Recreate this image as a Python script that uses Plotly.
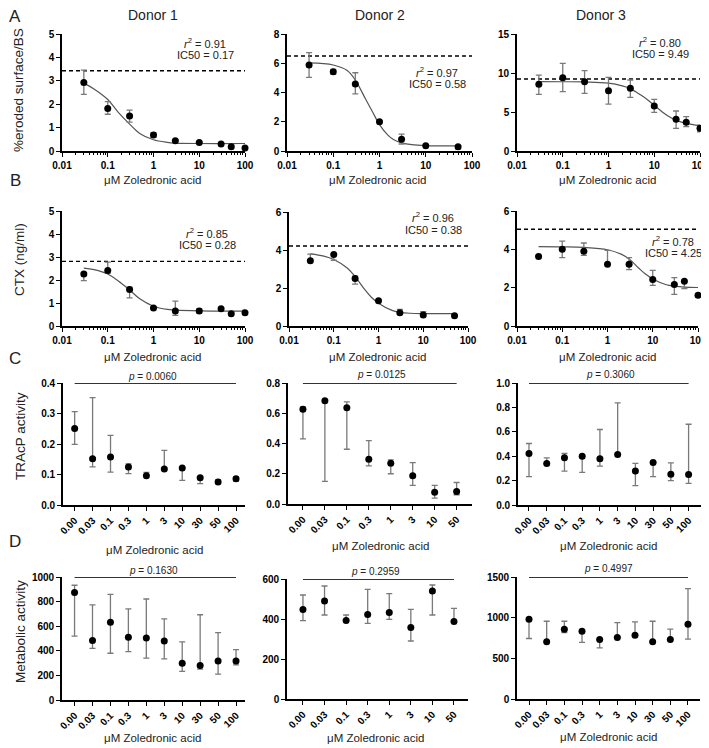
import plotly.graph_objects as go

# the page body keeps its default 8px margin, so positions below are window pixels
OFF = 8
FW, FH = 701, 740
FONT = "Liberation Sans, Arial, sans-serif"

# ---------------- data ----------------
# A: %eroded surface/BS vs log concentration
eroded_d1_conc = [0.03, 0.1, 0.3, 1, 3, 10, 30, 50, 100]
eroded_d1_mean = [2.93, 1.82, 1.50, 0.68, 0.44, 0.36, 0.30, 0.18, 0.13]
eroded_d1_upper = [3.46, 2.11, 1.75, 0.78, 0.47, 0.39, 0.33, 0.26, 0.20]
eroded_d1_lower = [2.42, 1.57, 1.23, 0.58, 0.41, 0.33, 0.27, 0.12, 0.08]
eroded_d1_fit_x = [0.03, 0.05, 0.1, 0.17, 0.3, 0.5, 1, 2, 3, 10, 100]
eroded_d1_fit_y = [2.90, 2.65, 2.20, 1.65, 1.15, 0.75, 0.48, 0.37, 0.34, 0.32, 0.32]
eroded_d1_baseline = 3.43

eroded_d2_conc = [0.03, 0.1, 0.3, 1, 3, 10, 50]
eroded_d2_mean = [5.88, 5.42, 4.58, 2.00, 0.80, 0.36, 0.29]
eroded_d2_upper = [6.72, 5.58, 5.35, 2.05, 1.16, 0.40, 0.36]
eroded_d2_lower = [5.04, 5.26, 3.90, 1.95, 0.48, 0.32, 0.15]
eroded_d2_fit_x = [0.03, 0.1, 0.2, 0.3, 0.5, 0.7, 1, 1.5, 2, 3, 5, 10, 50]
eroded_d2_fit_y = [6.02, 5.88, 5.50, 4.85, 3.55, 2.70, 1.80, 1.10, 0.78, 0.56, 0.43, 0.37, 0.35]
eroded_d2_baseline = 6.5

eroded_d3_conc = [0.03, 0.1, 0.3, 1, 3, 10, 30, 50, 100]
eroded_d3_mean = [8.55, 9.40, 8.88, 7.73, 8.03, 5.77, 4.06, 3.68, 2.91]
eroded_d3_upper = [9.74, 11.24, 10.30, 9.45, 9.10, 6.63, 5.13, 4.40, 3.33]
eroded_d3_lower = [7.27, 7.60, 7.40, 6.00, 6.88, 4.96, 2.91, 3.12, 2.47]
eroded_d3_fit_x = [0.03, 0.1, 0.3, 1, 2, 3, 5, 7, 10, 15, 20, 30, 50, 100]
eroded_d3_fit_y = [8.90, 8.88, 8.85, 8.70, 8.35, 8.00, 7.20, 6.60, 5.85, 5.00, 4.50, 3.95, 3.55, 3.25]
eroded_d3_baseline = 9.23

# B: CTX (ng/ml)
ctx_d1_conc = [0.03, 0.1, 0.3, 1, 3, 10, 30, 50, 100]
ctx_d1_mean = [2.26, 2.41, 1.59, 0.78, 0.65, 0.65, 0.75, 0.53, 0.58]
ctx_d1_upper = [2.30, 2.78, 1.69, 0.80, 1.08, 0.75, 0.77, 0.55, 0.68]
ctx_d1_lower = [1.97, 2.30, 1.22, 0.76, 0.46, 0.56, 0.73, 0.51, 0.52]
ctx_d1_fit_x = [0.03, 0.05, 0.1, 0.2, 0.3, 0.5, 1, 2, 3, 10, 100]
ctx_d1_fit_y = [2.52, 2.45, 2.26, 1.85, 1.57, 1.18, 0.86, 0.72, 0.69, 0.66, 0.65]
ctx_d1_baseline = 2.81

ctx_d2_conc = [0.03, 0.1, 0.3, 1, 3, 10, 50]
ctx_d2_mean = [3.43, 3.76, 2.50, 1.33, 0.70, 0.58, 0.54]
ctx_d2_upper = [3.78, 3.78, 2.62, 1.35, 0.87, 0.75, 0.56]
ctx_d2_lower = [3.41, 3.46, 2.20, 1.31, 0.63, 0.49, 0.52]
ctx_d2_fit_x = [0.03, 0.06, 0.1, 0.2, 0.3, 0.5, 0.7, 1, 2, 3, 5, 10, 50]
ctx_d2_fit_y = [3.80, 3.68, 3.50, 3.05, 2.60, 1.90, 1.50, 1.20, 0.82, 0.72, 0.67, 0.65, 0.65]
ctx_d2_baseline = 4.21

ctx_d3_conc = [0.03, 0.1, 0.3, 1, 3, 10, 30, 50, 100]
ctx_d3_mean = [3.63, 4.00, 3.90, 3.22, 3.22, 2.42, 2.17, 2.33, 1.60]
ctx_d3_upper = [3.65, 4.43, 4.33, 3.95, 3.57, 2.90, 2.52, 2.35, 1.62]
ctx_d3_lower = [3.61, 3.57, 3.69, 3.20, 2.94, 2.12, 1.65, 1.95, 1.58]
ctx_d3_fit_x = [0.03, 0.1, 0.3, 1, 2, 3, 5, 7, 10, 20, 30, 50, 100]
ctx_d3_fit_y = [4.14, 4.13, 4.10, 3.98, 3.75, 3.50, 3.00, 2.70, 2.45, 2.15, 2.08, 2.03, 2.01]
ctx_d3_baseline = 5.05

# C: TRAcP activity (categorical concentrations)
conc_labels_10 = ["0.00", "0.03", "0.1", "0.3", "1", "3", "10", "30", "50", "100"]
conc_labels_8 = ["0.00", "0.03", "0.1", "0.3", "1", "3", "10", "50"]

tracp_d1_mean = [0.251, 0.152, 0.157, 0.125, 0.096, 0.118, 0.121, 0.089, 0.075, 0.086]
tracp_d1_upper = [0.306, 0.352, 0.228, 0.135, 0.107, 0.179, 0.121, 0.092, 0.083, 0.092]
tracp_d1_lower = [0.199, 0.125, 0.108, 0.103, 0.096, 0.115, 0.081, 0.070, 0.073, 0.078]

tracp_d2_mean = [0.627, 0.682, 0.636, 0.296, 0.270, 0.186, 0.077, 0.083]
tracp_d2_upper = [0.642, 0.682, 0.675, 0.419, 0.292, 0.274, 0.123, 0.142]
tracp_d2_lower = [0.430, 0.149, 0.362, 0.252, 0.200, 0.123, 0.039, 0.061]

tracp_d3_mean = [0.422, 0.341, 0.387, 0.400, 0.379, 0.414, 0.278, 0.349, 0.253, 0.251]
tracp_d3_upper = [0.504, 0.387, 0.422, 0.400, 0.619, 0.837, 0.341, 0.349, 0.346, 0.662]
tracp_d3_lower = [0.232, 0.336, 0.278, 0.267, 0.319, 0.414, 0.158, 0.232, 0.199, 0.177]

# D: Metabolic activity
metab_d1_mean = [874, 484, 633, 511, 505, 479, 299, 281, 318, 318]
metab_d1_upper = [933, 773, 858, 741, 821, 660, 473, 693, 548, 409]
metab_d1_lower = [520, 420, 380, 393, 340, 334, 233, 251, 210, 286]

metab_d2_mean = [448, 490, 393, 422, 433, 358, 540, 387]
metab_d2_upper = [520, 565, 420, 548, 527, 448, 570, 453]
metab_d2_lower = [392, 420, 393, 378, 398, 290, 420, 387]

metab_d3_mean = [981, 703, 858, 834, 731, 756, 785, 703, 731, 919]
metab_d3_upper = [981, 956, 956, 834, 731, 940, 948, 956, 858, 1357]
metab_d3_lower = [744, 703, 817, 695, 629, 756, 785, 703, 731, 736]

fit_labels = [["0.91", "0.17"], ["0.97", "0.58"], ["0.80", "9.49"],
              ["0.85", "0.28"], ["0.96", "0.38"], ["0.78", "4.25"]]
p_values = ["0.0060", "0.0125", "0.3060", "0.1630", "0.2959", "0.4997"]
p_line_level = [0.4, 0.8, 1.0, 1000, 600, 1500]

donor_titles = ["Donor 1", "Donor 2", "Donor 3"]
row_letters = ["A", "B", "C", "D"]
y_titles = ["%eroded surface/BS", "CTX (ng/ml)", "TRAcP activity", "Metabolic activity"]
log_ticks = [0.01, 0.1, 1, 10, 100]
log_ticktext = ["0.01", "0.1", "1", "10", "100"]

curve_panels = [
    (eroded_d1_conc, eroded_d1_mean, eroded_d1_upper, eroded_d1_lower, eroded_d1_fit_x, eroded_d1_fit_y, eroded_d1_baseline),
    (eroded_d2_conc, eroded_d2_mean, eroded_d2_upper, eroded_d2_lower, eroded_d2_fit_x, eroded_d2_fit_y, eroded_d2_baseline),
    (eroded_d3_conc, eroded_d3_mean, eroded_d3_upper, eroded_d3_lower, eroded_d3_fit_x, eroded_d3_fit_y, eroded_d3_baseline),
    (ctx_d1_conc, ctx_d1_mean, ctx_d1_upper, ctx_d1_lower, ctx_d1_fit_x, ctx_d1_fit_y, ctx_d1_baseline),
    (ctx_d2_conc, ctx_d2_mean, ctx_d2_upper, ctx_d2_lower, ctx_d2_fit_x, ctx_d2_fit_y, ctx_d2_baseline),
    (ctx_d3_conc, ctx_d3_mean, ctx_d3_upper, ctx_d3_lower, ctx_d3_fit_x, ctx_d3_fit_y, ctx_d3_baseline),
]
dot_panels = [
    (conc_labels_10, tracp_d1_mean, tracp_d1_upper, tracp_d1_lower),
    (conc_labels_8, tracp_d2_mean, tracp_d2_upper, tracp_d2_lower),
    (conc_labels_10, tracp_d3_mean, tracp_d3_upper, tracp_d3_lower),
    (conc_labels_10, metab_d1_mean, metab_d1_upper, metab_d1_lower),
    (conc_labels_8, metab_d2_mean, metab_d2_upper, metab_d2_lower),
    (conc_labels_10, metab_d3_mean, metab_d3_upper, metab_d3_lower),
]

# ---------------- geometry (window pixels) ----------------
# plot boxes: (x_left, x_right, y_top, y_bottom)
boxes = [
    (62, 245, 34, 151), (287, 472, 34, 151), (517, 700, 34, 151),
    (62, 245, 211, 326), (289, 468, 212, 326), (517, 698, 211, 326),
    (63, 245, 383, 505), (288, 472, 383, 504), (518, 701, 383, 505),
    (62, 245, 577, 700), (287, 468, 579, 699), (517, 700, 577, 699),
]
y_ranges = [[0, 5], [0, 8], [0, 15], [0, 5], [0, 6], [0, 6],
            [0, 0.4], [0, 0.8], [0, 1.0], [0, 1000], [0, 600], [0, 1500]]
y_dticks = [1, 2, 5, 1, 2, 2, 0.1, 0.2, 0.2, 200, 200, 500]
cat_ranges = [[-0.65, 9.5], [-0.68, 7.7], [-0.62, 9.7],
              [-0.7, 9.5], [-0.74, 7.65], [-0.68, 9.68]]
r2_pos = [(205, 43), (437, 72), (660, 42), (207, 233), (433, 217), (673, 241)]
ic_pos = [(205, 55), (437, 84), (660, 54), (207, 245), (433, 230), (673, 253)]
p_pos = [(152, 376), (382, 375), (610, 375), (153, 570), (375, 571), (608, 568)]


def px(x):
    return (x - OFF) / FW


def py(y):
    return 1 - (y - OFF) / FH


def label(x, y, text, size, **kw):
    return dict(x=px(x), y=py(y), xref="paper", yref="paper", text=text, showarrow=False,
                xanchor="center", yanchor="middle",
                font=dict(family=FONT, size=size, color="#222"), **kw)


fig = go.Figure()
axis_base = dict(showline=True, linecolor="black", linewidth=1.6, ticks="outside",
                 ticklen=4, tickwidth=1.4, tickcolor="black", showgrid=False,
                 zeroline=False, automargin=False,
                 tickfont=dict(family=FONT, size=10, color="black", weight="bold"))
layout_axes = {}
annotations = []

for k in range(12):
    n = k + 1
    xa, ya = f"x{n}", f"y{n}"
    x0, x1, y0, y1 = boxes[k]
    xkey = "xaxis" if n == 1 else f"xaxis{n}"
    ykey = "yaxis" if n == 1 else f"yaxis{n}"
    yax = dict(axis_base, domain=[py(y1), py(y0)], anchor=xa, range=y_ranges[k],
               dtick=y_dticks[k], tick0=0)
    if 6 <= k < 9:
        yax["tickformat"] = ".1f"
    if k < 6:
        conc, mean, up, lo, fx, fy, base = curve_panels[k]
        xax = dict(axis_base, domain=[px(x0), px(x1)], anchor=ya, type="log", range=[-2, 2],
                   tickvals=log_ticks, ticktext=log_ticktext,
                   minor=dict(ticks="outside", ticklen=2.5, tickwidth=1, tickcolor="black", dtick="D1"))
        fig.add_trace(go.Scatter(x=[0.01, 100], y=[base, base], mode="lines", xaxis=xa, yaxis=ya,
                                 line=dict(color="black", width=1.4, dash="4px,3px"), cliponaxis=False))
        fig.add_trace(go.Scatter(x=fx, y=fy, mode="lines", xaxis=xa, yaxis=ya,
                                 line=dict(color="#555555", width=1.2, shape="spline")))
        fig.add_trace(go.Scatter(
            x=conc, y=mean, mode="markers", xaxis=xa, yaxis=ya, cliponaxis=False,
            marker=dict(color="black", size=7),
            error_y=dict(type="data", symmetric=False,
                         array=[u - m for u, m in zip(up, mean)],
                         arrayminus=[m - l for m, l in zip(mean, lo)],
                         color="#7a7a7a", thickness=1.3, width=3)))
        r2, ic = fit_labels[k]
        annotations.append(label(*r2_pos[k], f"<i>r</i><sup>2</sup> = {r2}", 11))
        annotations.append(label(*ic_pos[k], f"IC50 = {ic}", 11))
    else:
        j = k - 6
        cats, mean, up, lo = dot_panels[j]
        xax = dict(axis_base, domain=[px(x0), px(x1)], anchor=ya, type="category",
                   categoryorder="array", categoryarray=cats,
                   range=cat_ranges[j], tickangle=-45)
        fig.add_trace(go.Scatter(x=[cats[0], cats[-1]], y=[p_line_level[j]] * 2, mode="lines",
                                 xaxis=xa, yaxis=ya, cliponaxis=False,
                                 line=dict(color="#333", width=2)))
        fig.add_trace(go.Scatter(
            x=cats, y=mean, mode="markers", xaxis=xa, yaxis=ya, cliponaxis=False,
            marker=dict(color="black", size=7),
            error_y=dict(type="data", symmetric=False,
                         array=[u - m for u, m in zip(up, mean)],
                         arrayminus=[m - l for m, l in zip(mean, lo)],
                         color="#7a7a7a", thickness=1.3, width=3)))
        annotations.append(label(*p_pos[j], f"<i>p</i> = {p_values[j]}", 10))
    layout_axes[xkey] = xax
    layout_axes[ykey] = yax

# top/left texts sit a little inward from the reference so they stay inside the figure
for x, t in zip([153, 380, 601], donor_titles):
    annotations.append(label(x, 15, t, 14))
for y, t in zip([16, 181, 359, 541], row_letters):
    annotations.append(label(15, y, t, 17))
for (x, y), t in zip([(19, 90), (19, 260), (20, 436), (20, 632)], y_titles):
    annotations.append(label(x, y, t, 13.5, textangle=-90))
xlab_pos = [(152, 180), (378, 180), (607, 180), (152, 357), (378, 357), (607, 357),
            (154, 550), (380, 546), (608, 546), (152, 738), (375, 738), (608, 737)]
for x, y in xlab_pos:
    annotations.append(label(x, y, "μM Zoledronic acid", 11.5))

fig.update_layout(
    width=FW, height=FH, margin=dict(l=0, r=0, t=0, b=0, autoexpand=False),
    paper_bgcolor="white", plot_bgcolor="white", showlegend=False,
    annotations=annotations, **layout_axes,
)

fig.write_html("out.html")
